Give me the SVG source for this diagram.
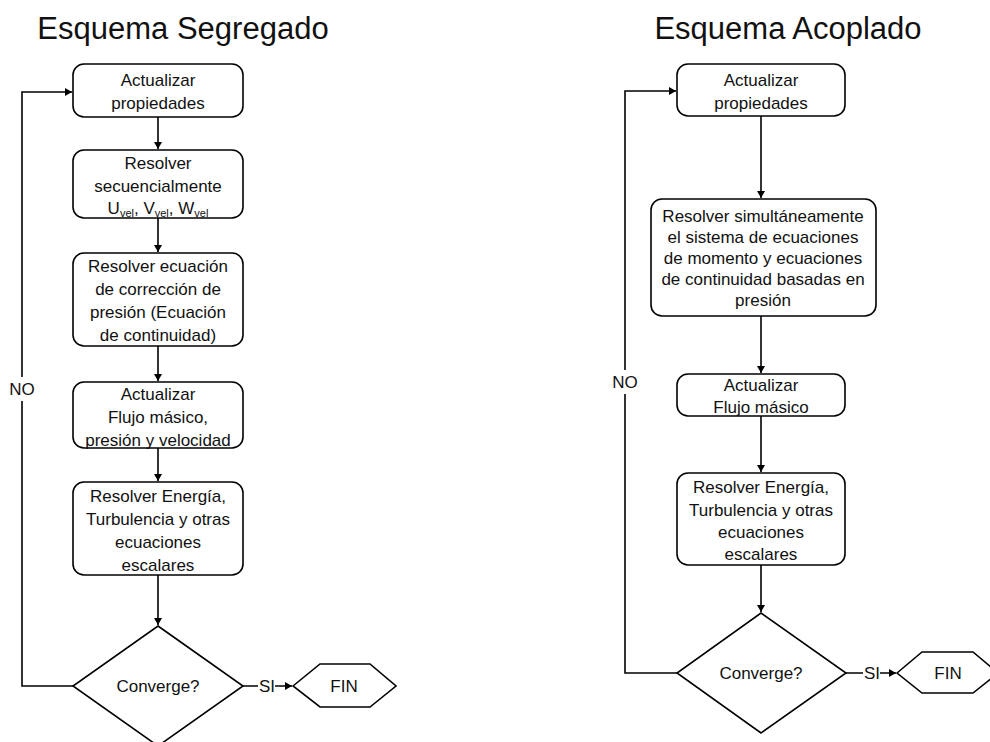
<svg xmlns="http://www.w3.org/2000/svg" width="990" height="742" viewBox="0 0 990 742">
<style>
text{font-family:"Liberation Sans",Arial,sans-serif;fill:#111;}
.t{font-size:17px;text-anchor:middle;}
.title{font-size:31px;text-anchor:middle;}
.box{fill:#fff;stroke:#000;stroke-width:1.6;}
.ln{fill:none;stroke:#000;stroke-width:1.6;}
.bg{fill:#fff;stroke:none;}
.sub{font-size:11px;}
</style>
<defs>
<marker id="ah" markerWidth="8" markerHeight="8" refX="7" refY="4" orient="auto" markerUnits="userSpaceOnUse">
<path d="M0,0 L7,4 L0,8 Z" fill="#000"/>
</marker>
</defs>
<rect x="0" y="0" width="990" height="742" fill="#fff"/>
<text class="title" x="183" y="39">Esquema Segregado</text>
<text class="title" x="788" y="39">Esquema Acoplado</text>

<g id="connectors">
<path class="ln" d="M158,117 V149" marker-end="url(#ah)"/>
<path class="ln" d="M158,218 V252" marker-end="url(#ah)"/>
<path class="ln" d="M158,346 V381" marker-end="url(#ah)"/>
<path class="ln" d="M158,448 V481" marker-end="url(#ah)"/>
<path class="ln" d="M158,575 V625" marker-end="url(#ah)"/>
<path class="ln" d="M73,686 H22 V92 H72" marker-end="url(#ah)"/>
<path class="ln" d="M243,686 H292" marker-end="url(#ah)"/>
<rect class="bg" x="258" y="676" width="17" height="20"/>
<text class="t" x="267" y="692">SI</text>
<rect class="bg" x="8" y="377" width="28" height="24"/>
<text class="t" x="22" y="395">NO</text>

<path class="ln" d="M761,116 V198" marker-end="url(#ah)"/>
<path class="ln" d="M761,316 V373" marker-end="url(#ah)"/>
<path class="ln" d="M761,416 V472" marker-end="url(#ah)"/>
<path class="ln" d="M761,565 V612" marker-end="url(#ah)"/>
<path class="ln" d="M677,673 H625 V91 H676" marker-end="url(#ah)"/>
<path class="ln" d="M846,673 H896" marker-end="url(#ah)"/>
<rect class="bg" x="863" y="663" width="17" height="20"/>
<text class="t" x="872" y="679">SI</text>
<rect class="bg" x="611" y="370" width="28" height="24"/>
<text class="t" x="625" y="388">NO</text>
</g>

<g id="s1">
<rect class="box" x="73" y="64" width="170" height="53" rx="11"/>
<text class="t" x="158" y="86">Actualizar</text>
<text class="t" x="158" y="109">propiedades</text>
</g>
<g id="s2">
<rect class="box" x="73" y="150" width="170" height="68" rx="11"/>
<text class="t" x="158" y="169">Resolver</text>
<text class="t" x="158" y="192">secuencialmente</text>
<text class="t" x="158" y="214">U<tspan class="sub" dy="3">vel</tspan><tspan dy="-3">, V</tspan><tspan class="sub" dy="3">vel</tspan><tspan dy="-3">, W</tspan><tspan class="sub" dy="3">vel</tspan></text>
</g>
<g id="s3">
<rect class="box" x="73" y="253" width="170" height="93" rx="11"/>
<text class="t" x="158" y="272">Resolver ecuación</text>
<text class="t" x="158" y="295">de corrección de</text>
<text class="t" x="158" y="318">presión (Ecuación</text>
<text class="t" x="158" y="341">de continuidad)</text>
</g>
<g id="s4">
<rect class="box" x="73" y="382" width="170" height="66" rx="11"/>
<text class="t" x="158" y="400">Actualizar</text>
<text class="t" x="158" y="423">Flujo másico,</text>
<text class="t" x="158" y="446">presión y velocidad</text>
</g>
<g id="s5">
<rect class="box" x="73" y="482" width="170" height="93" rx="11"/>
<text class="t" x="158" y="502">Resolver Energía,</text>
<text class="t" x="158" y="525">Turbulencia y otras</text>
<text class="t" x="158" y="548">ecuaciones</text>
<text class="t" x="158" y="571">escalares</text>
</g>
<g id="s6">
<polygon class="box" points="158,626 243,686 158,746 73,686"/>
<text class="t" x="158" y="692">Converge?</text>
</g>
<g id="s7">
<polygon class="box" points="293,686 320,664 370,664 396,686 370,707 320,707"/>
<text class="t" x="344" y="692">FIN</text>
</g>

<g id="a1">
<rect class="box" x="677" y="64" width="168" height="52" rx="11"/>
<text class="t" x="761" y="86">Actualizar</text>
<text class="t" x="761" y="109">propiedades</text>
</g>
<g id="a2">
<rect class="box" x="651" y="199" width="225" height="117" rx="11"/>
<text class="t" x="763" y="222">Resolver simultáneamente</text>
<text class="t" x="763" y="243">el sistema de ecuaciones</text>
<text class="t" x="763" y="264">de momento y ecuaciones</text>
<text class="t" x="763" y="285">de continuidad basadas en</text>
<text class="t" x="763" y="306">presión</text>
</g>
<g id="a3">
<rect class="box" x="677" y="374" width="168" height="42" rx="11"/>
<text class="t" x="761" y="391">Actualizar</text>
<text class="t" x="761" y="413">Flujo másico</text>
</g>
<g id="a4">
<rect class="box" x="677" y="473" width="168" height="92" rx="11"/>
<text class="t" x="761" y="493">Resolver Energía,</text>
<text class="t" x="761" y="516">Turbulencia y otras</text>
<text class="t" x="761" y="538">ecuaciones</text>
<text class="t" x="761" y="560">escalares</text>
</g>
<g id="a5">
<polygon class="box" points="761,613 846,673 761,733 677,673"/>
<text class="t" x="761" y="679">Converge?</text>
</g>
<g id="a6">
<polygon class="box" points="897,673 922,652 973,652 998,673 973,693 922,693"/>
<text class="t" x="948" y="679">FIN</text>
</g>
</svg>
